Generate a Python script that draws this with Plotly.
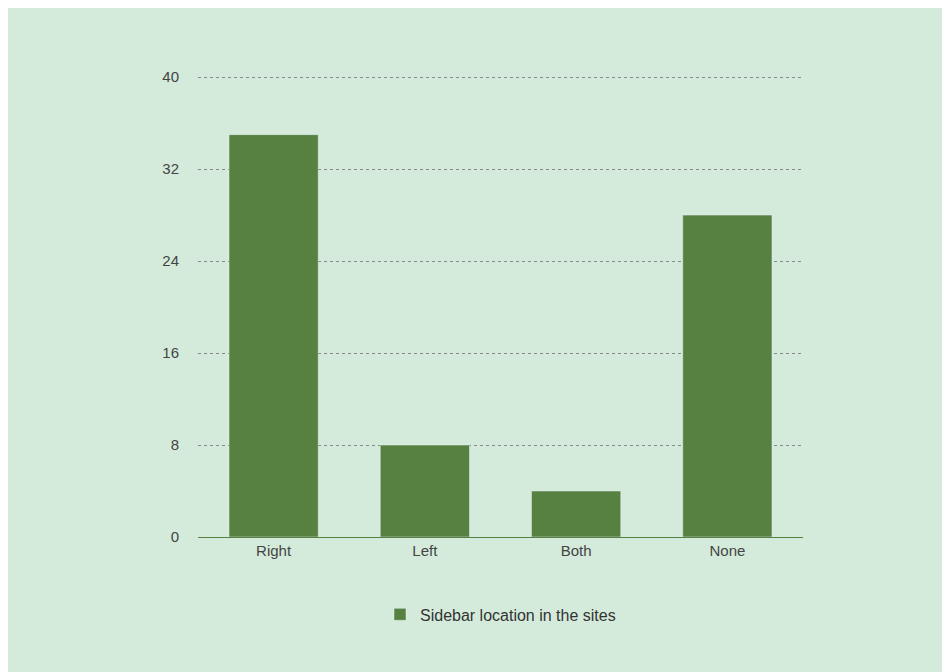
import plotly.graph_objects as go

categories = ["Right", "Left", "Both", "None"]
values = [35, 8, 4, 28]
tick_vals = [0, 8, 16, 24, 32, 40]

fig = go.Figure()
fig.add_trace(go.Bar(x=categories, y=values, name="Sidebar location in the sites",
                     marker_color="#568140", showlegend=True))

fig.update_layout(
    width=942, height=664,
    margin=dict(l=190, r=147, t=68, b=135),
    paper_bgcolor="#d4ebdb", plot_bgcolor="#d4ebdb",
    font=dict(family="Liberation Sans, Arial", size=15, color="#444444"),
    bargap=0.41,
    showlegend=True,
    legend=dict(orientation="h", x=0.5, xanchor="center", y=-0.168, yanchor="middle",
                font=dict(size=16, color="#333333"), bgcolor="rgba(0,0,0,0)"),
    xaxis=dict(showline=True, linecolor="#568140", linewidth=1, ticks="",
               showgrid=False),
    yaxis=dict(range=[0, 40.1], tickvals=tick_vals, showgrid=True, gridcolor="#888888",
               griddash="dot", gridwidth=1, zeroline=False, ticks="", ticklabelstandoff=18),
)

fig.write_html("out.html")
